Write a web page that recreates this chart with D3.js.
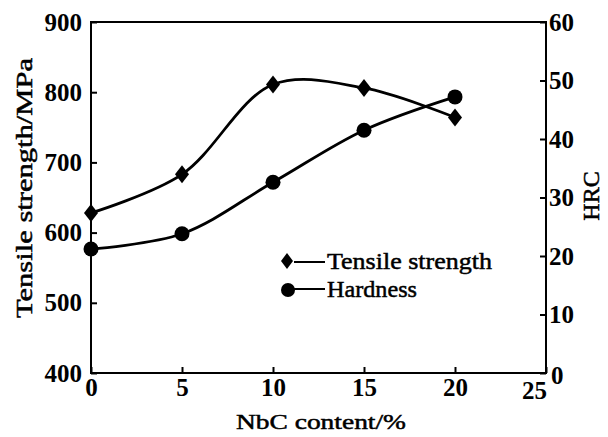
<!DOCTYPE html>
<html><head><meta charset="utf-8">
<script src="https://cdn.jsdelivr.net/npm/d3@7"></script>
<style>body{margin:0;background:#fff}svg{display:block}</style>
</head><body><svg id="c" width="608" height="437"></svg>
<script>
const nbc = [0, 5, 10, 15, 20];
const tensile = [628, 683, 811, 806, 764];
const hardness = [21.2, 23.8, 32.6, 41.5, 47.2];
const xTicks = [0, 5, 10, 15, 20, 25];
const yLeftTicks = [400, 500, 600, 700, 800, 900];
const yRightTicks = [0, 10, 20, 30, 40, 50, 60];

const FF = "Liberation Serif";
const svg = d3.select("#c");
const L = 91, R = 546, T = 22, B = 373;
const x = d3.scaleLinear().domain([0, 25]).range([L, R]);
const yL = d3.scaleLinear().domain([400, 900]).range([B, T]);
const yR = d3.scaleLinear().domain([0, 60]).range([B, T]);

// frame
svg.append("rect").attr("x", L).attr("y", T).attr("width", R - L).attr("height", B - T)
  .attr("fill", "none").attr("stroke", "#000").attr("stroke-width", 2);

function styleAxis(g) {
  g.attr("font-family", null).attr("font-size", null);
  g.select(".domain").remove();
  g.selectAll(".tick line").attr("stroke", "#000").attr("stroke-width", 2);
  g.selectAll(".tick text").style("font-family", FF).style("font-weight", "bold")
    .style("font-size", "25px").attr("fill", "#000");
}
const gx = svg.append("g").attr("transform", `translate(0,${B})`)
  .call(d3.axisBottom(x).tickValues(xTicks).tickSize(-6).tickPadding(5).tickFormat(d3.format("d")))
  .call(styleAxis);
gx.selectAll(".tick text").filter(d => d === 25).attr("x", -12).attr("y", 8);
svg.append("g").attr("transform", `translate(${L},0)`)
  .call(d3.axisLeft(yL).tickValues(yLeftTicks).tickSize(-6).tickPadding(9).tickFormat(d3.format("d")))
  .call(styleAxis);
const gr = svg.append("g").attr("transform", `translate(${R},0)`)
  .call(d3.axisRight(yR).tickValues(yRightTicks).tickSize(-6).tickPadding(3).tickFormat(d3.format("d")))
  .call(styleAxis);
gr.selectAll(".tick text").filter(d => d === 0).attr("y", 2).attr("x", 5);

// curves
const lineT = d3.line().x((d, i) => x(nbc[i])).y(d => yL(d)).curve(d3.curveCatmullRom.alpha(0.5));
const lineH = d3.line().x((d, i) => x(nbc[i])).y(d => yR(d)).curve(d3.curveCatmullRom.alpha(0.5));
svg.append("path").attr("d", lineT(tensile)).attr("fill", "none").attr("stroke", "#000").attr("stroke-width", 2.8);
svg.append("path").attr("d", lineH(hardness)).attr("fill", "none").attr("stroke", "#000").attr("stroke-width", 2.8);

const diamond = (cx, cy, w, h) => `M${cx},${cy - h}L${cx + w},${cy}L${cx},${cy + h}L${cx - w},${cy}Z`;
svg.selectAll(".dT").data(tensile).enter().append("path")
  .attr("d", (d, i) => diamond(x(nbc[i]), yL(d), 7, 9)).attr("fill", "#000");
svg.selectAll(".dH").data(hardness).enter().append("circle")
  .attr("cx", (d, i) => x(nbc[i])).attr("cy", d => yR(d)).attr("r", 7.5).attr("fill", "#000");

function txt(sel, size, len) {
  sel.style("font-family", FF).style("font-size", size + "px").attr("fill", "#000")
    .attr("stroke", "#000").attr("stroke-width", 0.5);
  if (len) sel.attr("textLength", len).attr("lengthAdjust", "spacingAndGlyphs");
  return sel;
}
// legend
svg.append("path").attr("d", diamond(287, 261, 6, 8)).attr("fill", "#000");
svg.append("line").attr("x1", 294).attr("x2", 325).attr("y1", 262).attr("y2", 262).attr("stroke", "#000").attr("stroke-width", 2);
txt(svg.append("text").attr("x", 327).attr("y", 269).text("Tensile strength"), 24, 165);
svg.append("circle").attr("cx", 288).attr("cy", 290).attr("r", 7).attr("fill", "#000");
svg.append("line").attr("x1", 294).attr("x2", 325).attr("y1", 289).attr("y2", 289).attr("stroke", "#000").attr("stroke-width", 2);
txt(svg.append("text").attr("x", 327).attr("y", 297).text("Hardness"), 24, 90);

// axis titles
txt(svg.append("text").attr("x", 236).attr("y", 429).text("NbC content/%"), 22, 170);
txt(svg.append("text").attr("transform", "translate(32,318) rotate(-90)").text("Tensile strength/MPa"), 24, 260);
txt(svg.append("text").attr("transform", "translate(599,196) rotate(-90)").attr("text-anchor", "middle").text("HRC"), 24);
</script></body></html>
